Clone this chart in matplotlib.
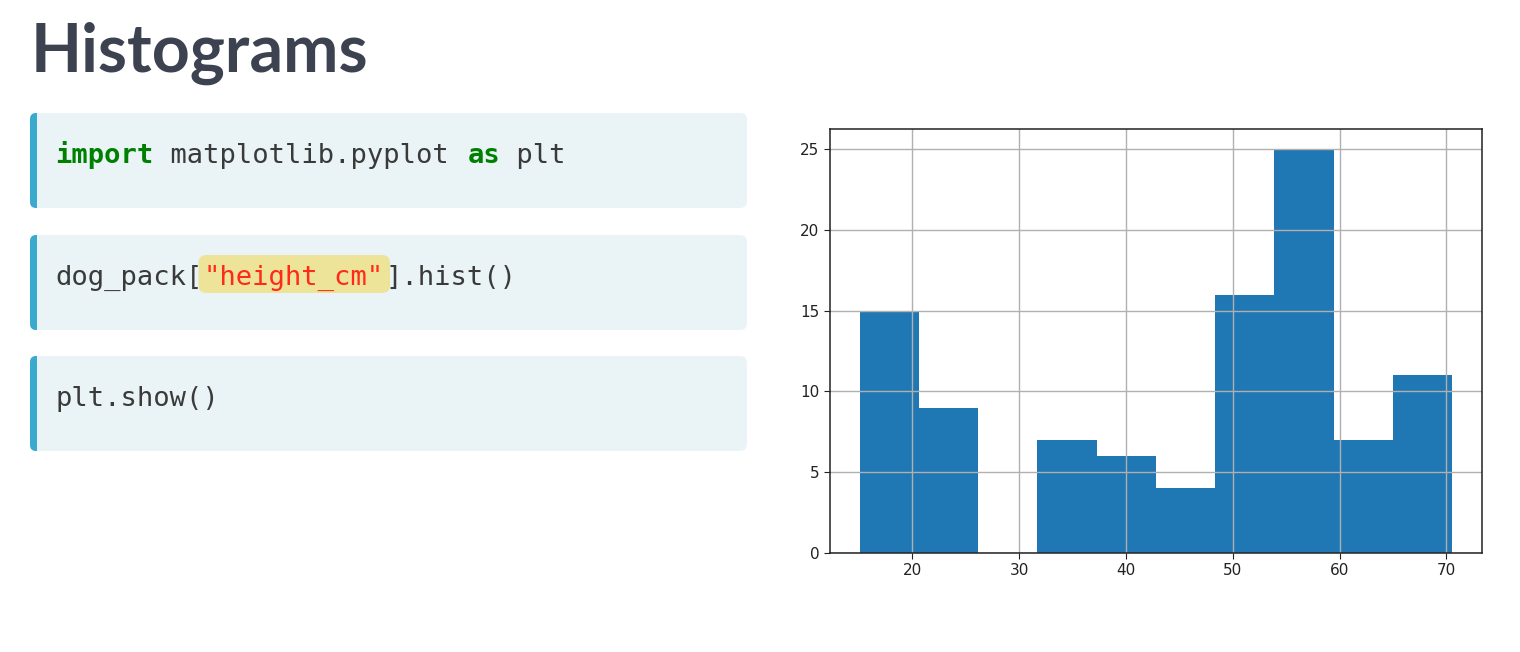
import matplotlib
matplotlib.use("Agg")
import matplotlib.pyplot as plt
from matplotlib.patches import FancyBboxPatch, Rectangle
import numpy as np

# ---- data ----
bin_edges = [15.05, 20.60, 26.15, 31.70, 37.25, 42.80, 48.35, 53.90, 59.45, 65.00, 70.56]
counts = [15, 9, 0, 7, 6, 4, 16, 25, 7, 11]
x_ticks = [20, 30, 40, 50, 60, 70]
y_ticks = [0, 5, 10, 15, 20, 25]
title = "Histograms"
code_lines = [
    [("import", "#008000", "bold"), (" matplotlib.pyplot ", "#3a3a3a", "normal"),
     ("as", "#008000", "bold"), (" plt", "#3a3a3a", "normal")],
    [("dog_pack[", "#3a3a3a", "normal"), ('"height_cm"', "#ff2a1a", "normal"),
     ("].hist()", "#3a3a3a", "normal")],
    [("plt.show()", "#3a3a3a", "normal")],
]

W, H = 1520, 652
fig = plt.figure(figsize=(W / 100, H / 100), dpi=100)
fig.patch.set_facecolor("white")

# background canvas in pixel coords
bg = fig.add_axes([0, 0, 1, 1])
bg.set_xlim(0, W)
bg.set_ylim(H, 0)
bg.axis("off")

bg.text(31, 72, title, fontsize=47.7, fontweight="bold", family=["Lato", "DejaVu Sans"],
        color="#3d4251", va="baseline", ha="left")

box_tops = [113, 235, 356]
box_h = 95
char_w = 16.5
mono = ["DejaVu Sans Mono"]
for i, (top, segs) in enumerate(zip(box_tops, code_lines)):
    bg.add_patch(FancyBboxPatch((30, top), 717, box_h, boxstyle="round,pad=0,rounding_size=7",
                                fc="#eaf3f6", ec="none"))
    bg.add_patch(FancyBboxPatch((30, top), 20, box_h, boxstyle="round,pad=0,rounding_size=6",
                                fc="#3aaacf", ec="none"))
    bg.add_patch(Rectangle((37, top), 30, box_h, fc="#eaf3f6", ec="none"))
    baseline = top + 50
    x = 55
    for text, col, wt in segs:
        if text.startswith('"'):
            bg.add_patch(FancyBboxPatch((x - 5, top + 20), len(text) * char_w + 10, 38,
                                        boxstyle="round,pad=0,rounding_size=8",
                                        fc="#ede399", ec="none"))
        bg.text(x, baseline, text, fontsize=19.5, family=mono, color=col,
                fontweight=wt, va="baseline", ha="left")
        x += len(text) * char_w

# histogram
ax = fig.add_axes([830 / W, 1 - 553 / H, 652 / W, 424 / H])
ax.hist(bin_edges[:-1], bins=bin_edges, weights=counts, color="#1f77b4")
ax.grid(True, color="#b0b0b0", linewidth=1.0)
ax.set_xticks(x_ticks)
ax.set_yticks(y_ticks)
ax.tick_params(labelsize=11, colors="#222222", length=4)
for s in ax.spines.values():
    s.set_linewidth(1.1)
    s.set_color("#222222")

fig.savefig("out.png", dpi=100)
